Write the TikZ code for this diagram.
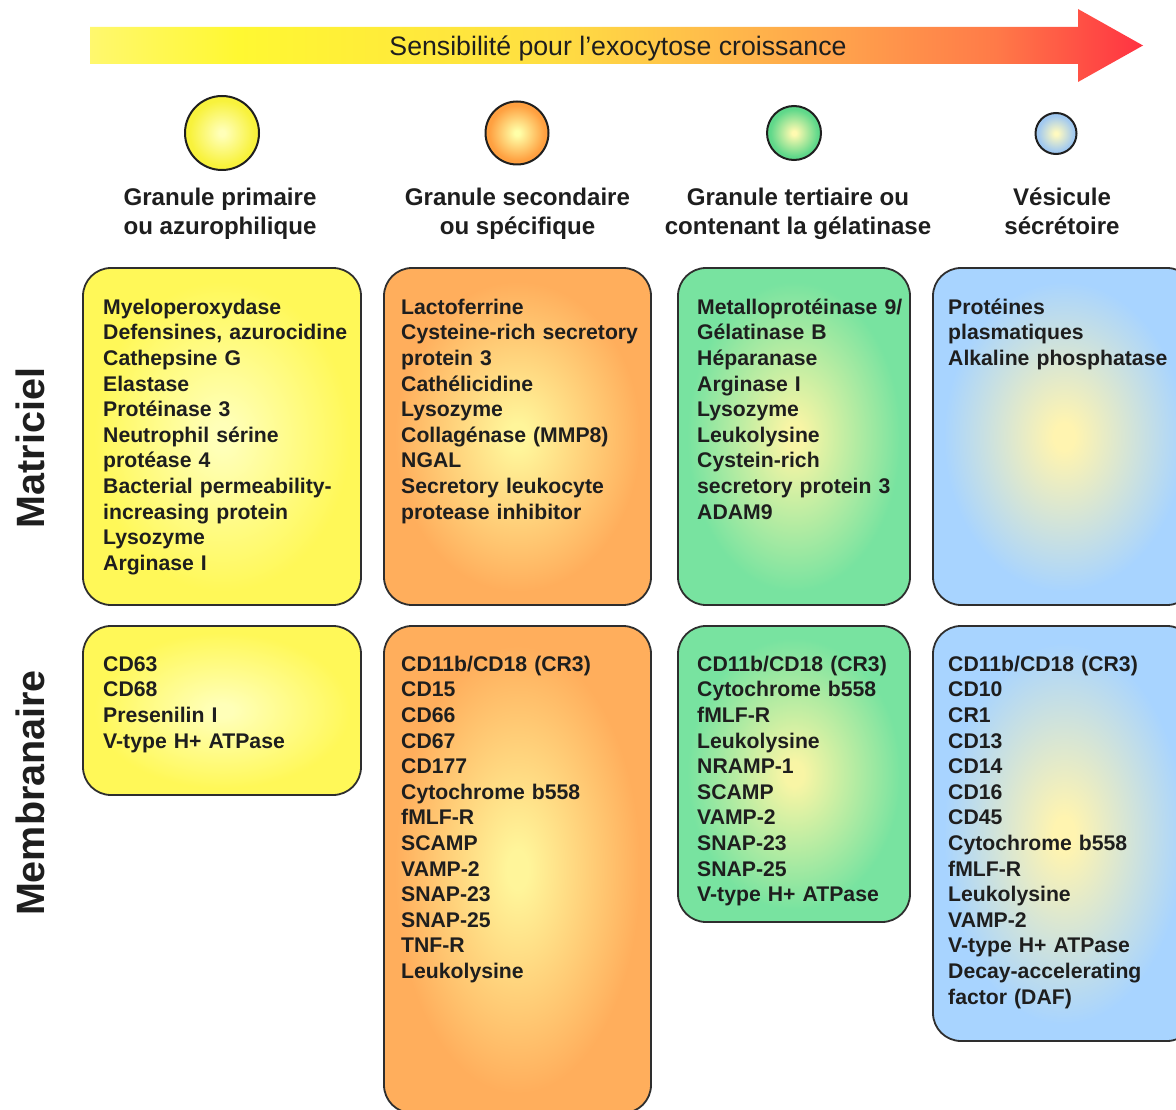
\documentclass[tikz,border=0pt]{standalone}
\usepackage{fontspec}
\setmainfont{Liberation Sans}
\usetikzlibrary{shapes.geometric}
\definecolor{txt}{HTML}{1E1E1E}
\definecolor{edge}{HTML}{2E2E2E}
% arrow colours
\definecolor{a0}{HTML}{FFF86E}
\definecolor{a1}{HTML}{FFF832}
\definecolor{a2}{HTML}{FFDE42}
\definecolor{a3}{HTML}{FFBE4A}
\definecolor{a4}{HTML}{FFA04C}
\definecolor{a5}{HTML}{FF7A48}
\definecolor{a6}{HTML}{FF3242}
% box colours
\definecolor{ybc}{HTML}{FFFFB8}
\definecolor{ybo}{HTML}{FFF858}
\definecolor{obc}{HTML}{FFF59A}
\definecolor{obo}{HTML}{FFAE5C}
\definecolor{gbc}{HTML}{F8F5A5}
\definecolor{gbo}{HTML}{78E3A0}
\definecolor{bbc}{HTML}{FFF4B0}
\definecolor{bbo}{HTML}{A8D4FF}
% circle colours
\definecolor{ycc}{HTML}{FFFFB8}
\definecolor{yco}{HTML}{F8F23C}
\definecolor{occ}{HTML}{FFFFA8}
\definecolor{oco}{HTML}{FFA040}
\definecolor{gcc}{HTML}{FFFAB0}
\definecolor{gco}{HTML}{5FD88A}
\definecolor{bcc}{HTML}{FFFAC0}
\definecolor{bco}{HTML}{A0C8F0}
\pgfdeclarehorizontalshading{arrowsh}{100bp}{color(0bp)=(a0);color(25bp)=(a0);color(32bp)=(a1);color(47bp)=(a2);color(54bp)=(a3);color(61bp)=(a4);color(68bp)=(a5);color(75bp)=(a6);color(100bp)=(a6)}
\pgfdeclareradialshading{ybox}{\pgfpoint{0bp}{0bp}}{color(0bp)=(ybc);color(2bp)=(ybc);color(23bp)=(ybo);color(50bp)=(ybo)}
\pgfdeclareradialshading{obox}{\pgfpoint{0bp}{0bp}}{color(0bp)=(obc);color(2bp)=(obc);color(23bp)=(obo);color(50bp)=(obo)}
\pgfdeclareradialshading{gbox}{\pgfpoint{0bp}{0bp}}{color(0bp)=(gbc);color(2bp)=(gbc);color(23bp)=(gbo);color(50bp)=(gbo)}
\pgfdeclareradialshading{bbox}{\pgfpoint{0bp}{0bp}}{color(0bp)=(bbc);color(2bp)=(bbc);color(23bp)=(bbo);color(50bp)=(bbo)}
\pgfdeclareradialshading{ycirc}{\pgfpoint{0bp}{0bp}}{color(0bp)=(ycc);color(2bp)=(ycc);color(22bp)=(yco);color(50bp)=(yco)}
\pgfdeclareradialshading{ocirc}{\pgfpoint{0bp}{0bp}}{color(0bp)=(occ);color(2bp)=(occ);color(22bp)=(oco);color(50bp)=(oco)}
\pgfdeclareradialshading{gcirc}{\pgfpoint{0bp}{0bp}}{color(0bp)=(gcc);color(2bp)=(gcc);color(22bp)=(gco);color(50bp)=(gco)}
\pgfdeclareradialshading{bcirc}{\pgfpoint{0bp}{0bp}}{color(0bp)=(bcc);color(2bp)=(bcc);color(22bp)=(bco);color(50bp)=(bco)}
\newcommand{\listfont}{\fontsize{21.2pt}{25.6pt}\selectfont\bfseries}
\newcommand{\headfont}{\fontsize{24.1pt}{29pt}\selectfont\bfseries}
\begin{document}
\begin{tikzpicture}[x=1pt,y=-1pt,
  panel/.style={draw=edge,line width=1.8pt,rounded corners=28pt,shade,inner sep=0pt},
  granule/.style={circle,draw=black!88,line width=2pt,shade,inner sep=0pt},
  listtext/.style={anchor=north west,inner sep=0pt,text width=262pt,align=left,font=\listfont,text=txt},
  header/.style={anchor=north,inner sep=0pt,align=center,font=\headfont,text=txt},
  sidelabel/.style={anchor=base,rotate=90,inner sep=0pt,font=\fontsize{39.5pt}{40pt}\selectfont\bfseries,text=txt}]
\useasboundingbox (0,0) rectangle (1176,1110);
\clip (0,0) rectangle (1176,1110);
% arrow
\shade[shading=arrowsh] (90,27) -- (1078,27) -- (1078,9) -- (1143,45.5) -- (1078,82) -- (1078,64) -- (90,64) -- cycle;
\node[anchor=base,inner sep=0pt,font=\fontsize{26.7pt}{30pt}\selectfont,text=txt] (arrowtxt) at (618,55.5) {Sensibilité pour l’exocytose croissance};
% granules
\node[granule,shading=ycirc,minimum size=74pt] (c1) at (222,133) {};
\node[granule,shading=ocirc,minimum size=63pt] (c2) at (517,133) {};
\node[granule,shading=gcirc,minimum size=54pt] (c3) at (794,133) {};
\node[granule,shading=bcirc,minimum size=41pt] (c4) at (1056,133.5) {};
% headers
\node[header] (h1) at (220,184.7) {\strut Granule primaire\\ou azurophilique};
\node[header] (h2) at (517.5,184.7) {\strut Granule secondaire\\ou spécifique};
\node[header] (h3) at (798,184.7) {\strut Granule tertiaire ou\\contenant la gélatinase};
\node[header] (h4) at (1062,184.7) {\strut Vésicule\\sécrétoire};
% side labels
\node[sidelabel] (lmat) at (45,448) {Matriciel};
\node[sidelabel] (lmem) at (45,793) {Membranaire};
% matrix panels
\node[panel,shading=ybox,minimum width=278pt,minimum height=337pt] (m1) at (222,436.5) {};
\node[panel,shading=obox,minimum width=267pt,minimum height=337pt] (m2) at (517.5,436.5) {};
\node[panel,shading=gbox,minimum width=232pt,minimum height=337pt] (m3) at (794,436.5) {};
\node[panel,shading=bbox,minimum width=262pt,minimum height=337pt] (m4) at (1064,436.5) {};
% membrane panels
\node[panel,shading=ybox,minimum width=278pt,minimum height=169pt] (b1) at (222,710.5) {};
\node[panel,shading=obox,minimum width=267pt,minimum height=487pt] (b2) at (517.5,869.5) {};
\node[panel,shading=gbox,minimum width=232pt,minimum height=296pt] (b3) at (794,774) {};
\node[panel,shading=bbox,minimum width=262pt,minimum height=415pt] (b4) at (1064,833.5) {};
% matrix texts
\node[listtext] (m1t) at (103,296.1) {\strut Myeloperoxydase\\Defensines, azurocidine\\Cathepsine G\\Elastase\\Protéinase 3\\Neutrophil sérine\\protéase 4\\Bacterial permeability-\\increasing protein\\Lysozyme\\Arginase I};
\node[listtext] (m2t) at (401,296.1) {\strut Lactoferrine\\Cysteine-rich secretory\\protein 3\\Cathélicidine\\Lysozyme\\Collagénase (MMP8)\\NGAL\\Secretory leukocyte\\protease inhibitor};
\node[listtext] (m3t) at (697,296.1) {\strut Metalloprotéinase 9/\\Gélatinase B\\Héparanase\\Arginase I\\Lysozyme\\Leukolysine\\Cystein-rich\\secretory protein 3\\ADAM9};
\node[listtext] (m4t) at (948,296.1) {\strut Protéines\\plasmatiques\\Alkaline phosphatase};
% membrane texts
\node[listtext] (b1t) at (103,653.1) {\strut CD63\\CD68\\Presenilin I\\V-type H+ ATPase};
\node[listtext] (b2t) at (401,653.1) {\strut CD11b/CD18 (CR3)\\CD15\\CD66\\CD67\\CD177\\Cytochrome b558\\fMLF-R\\SCAMP\\VAMP-2\\SNAP-23\\SNAP-25\\TNF-R\\Leukolysine};
\node[listtext] (b3t) at (697,653.1) {\strut CD11b/CD18 (CR3)\\Cytochrome b558\\fMLF-R\\Leukolysine\\NRAMP-1\\SCAMP\\VAMP-2\\SNAP-23\\SNAP-25\\V-type H+ ATPase};
\node[listtext] (b4t) at (948,653.1) {\strut CD11b/CD18 (CR3)\\CD10\\CR1\\CD13\\CD14\\CD16\\CD45\\Cytochrome b558\\fMLF-R\\Leukolysine\\VAMP-2\\V-type H+ ATPase\\Decay-accelerating\\factor (DAF)};
\end{tikzpicture}
\end{document}
